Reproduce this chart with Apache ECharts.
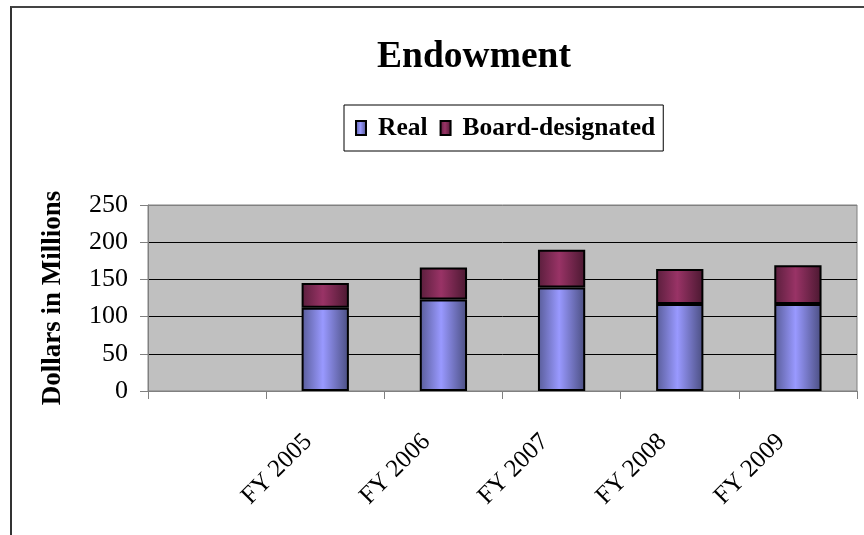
<!DOCTYPE html>
<html>
<head>
<meta charset="utf-8">
<script src="https://cdn.jsdelivr.net/npm/echarts@6/dist/echarts.min.js"></script>
<style>
  html, body { margin: 0; padding: 0; width: 864px; height: 535px; overflow: hidden; background: #fff; }
  #frame { position: absolute; left: 10px; top: 6px; width: 900px; height: 600px;
           border-left: 2px solid #333; border-top: 2px solid #444; }
  #chart { position: absolute; left: 0; top: 0; width: 864px; height: 535px; }
</style>
</head>
<body>
<div id="frame"></div>
<div id="chart"></div>
<script>
// 数据
const categories = ['', 'FY 2005', 'FY 2006', 'FY 2007', 'FY 2008', 'FY 2009']
const realValues = [null, 112, 123, 139, 117, 117]
const boardValues = [null, 33, 43, 51, 47, 52]
const yTicks = [0, 50, 100, 150, 200, 250]

const serif = "'Liberation Serif', 'Times New Roman', serif"

function barGradient (edge, mid, dark) {
  return new echarts.graphic.LinearGradient(0, 0, 1, 0, [
    { offset: 0, color: edge },
    { offset: 0.45, color: mid },
    { offset: 1, color: dark }
  ])
}

const myChart = echarts.init(document.getElementById('chart'))
const option = {
  animation: false,
  textStyle: { fontFamily: serif },
  title: {
    text: 'Endowment',
    left: 469,
    textAlign: 'center',
    top: 33,
    textStyle: { fontFamily: serif, fontSize: 37.5, fontWeight: 'bold', color: '#000' }
  },
  legend: {
    left: 344,
    top: 105,
    padding: [10, 8, 10, 11],
    borderColor: '#000',
    borderWidth: 1,
    backgroundColor: '#fff',
    itemWidth: 10,
    itemHeight: 14,
    itemGap: 12,
    icon: 'rect',
    textStyle: { fontFamily: serif, fontSize: 25.5, fontWeight: 'bold', color: '#000', padding: [0, 0, 0, 7] },
    data: ['Real', 'Board-designated']
  },
  grid: {
    left: 148,
    right: 7,
    top: 205,
    bottom: 144,
    show: true,
    backgroundColor: '#c0c0c0',
    borderColor: '#808080',
    borderWidth: 1
  },
  xAxis: {
    type: 'category',
    data: categories,
    axisLine: { lineStyle: { color: '#808080', width: 1 } },
    axisTick: { show: true, interval: 0, length: 8, lineStyle: { color: '#808080' } },
    axisLabel: { interval: 0, rotate: 45, fontFamily: serif, fontSize: 25, color: '#000', margin: 30, padding: [0, 24, 0, 0] }
  },
  yAxis: {
    type: 'value',
    min: yTicks[0],
    max: yTicks[yTicks.length - 1],
    interval: 50,
    name: 'Dollars in Millions',
    nameLocation: 'middle',
    nameGap: 81,
    nameTextStyle: { fontFamily: serif, fontSize: 27, fontWeight: 'bold', color: '#000' },
    axisLine: { show: true, lineStyle: { color: '#808080', width: 1 } },
    axisTick: { show: true, length: 8, lineStyle: { color: '#808080' } },
    axisLabel: { fontFamily: serif, fontSize: 26, color: '#000', margin: 20 },
    splitLine: { lineStyle: { color: ['#808080', '#000', '#000', '#000', '#000', '#808080'], width: 1 } }
  },
  series: [
    {
      name: 'Real',
      type: 'bar',
      stack: 'total',
      barWidth: '40%',
      itemStyle: { color: barGradient('#585c98', '#9999ff', '#4a4e80'), borderColor: '#000', borderWidth: 2 },
      data: realValues
    },
    {
      name: 'Board-designated',
      type: 'bar',
      stack: 'total',
      barWidth: '40%',
      itemStyle: { color: barGradient('#5a1e3c', '#993366', '#4a1830'), borderColor: '#000', borderWidth: 2 },
      data: boardValues
    }
  ]
}
myChart.setOption(option)
</script>
</body>
</html>
